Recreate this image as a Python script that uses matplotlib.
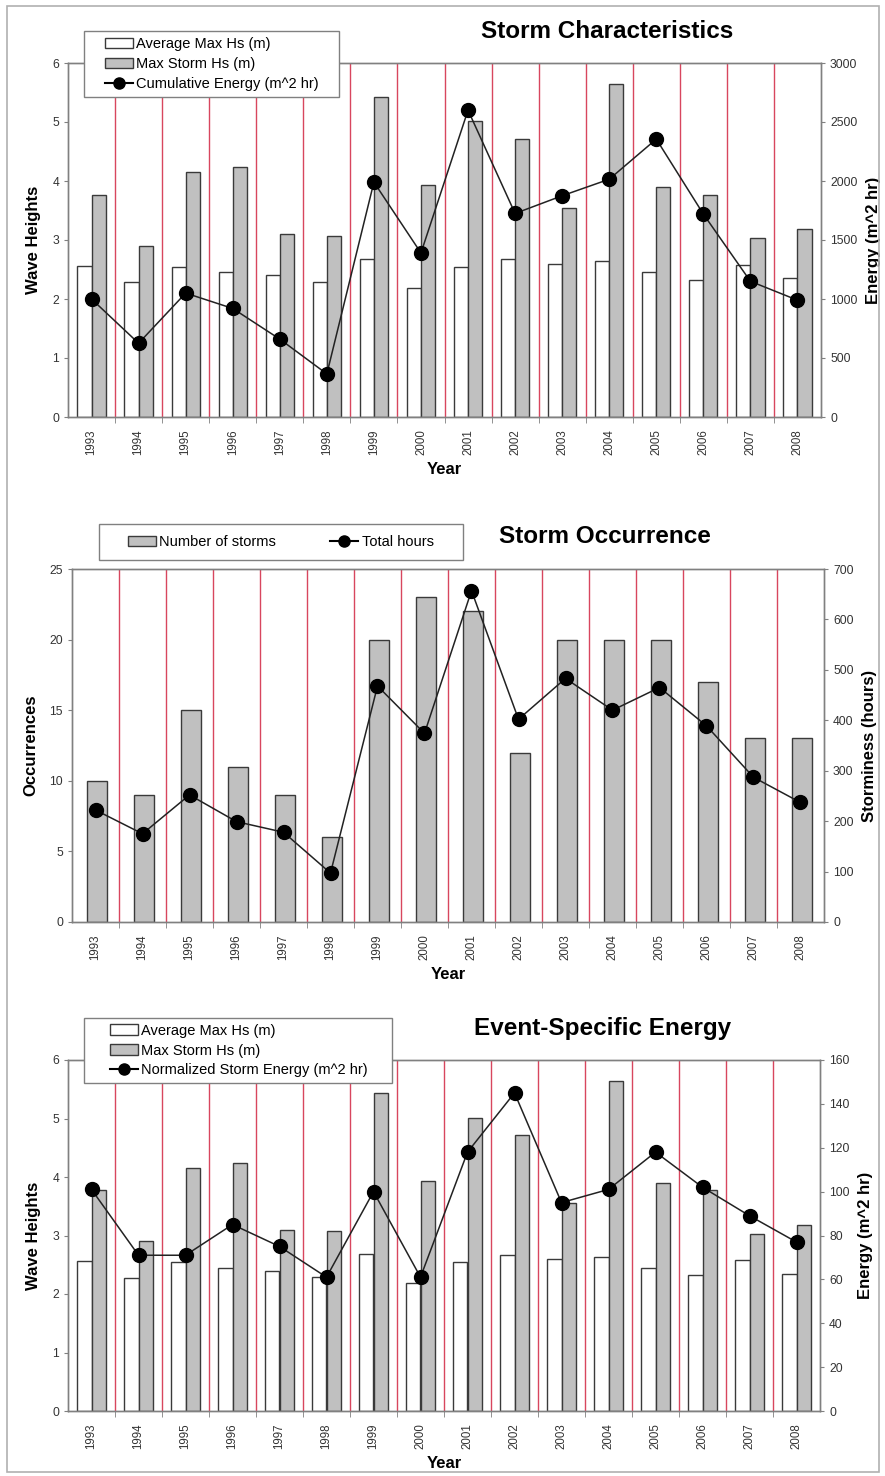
import numpy as np
import matplotlib.pyplot as plt
from matplotlib.patches import Rectangle
from matplotlib.lines import Line2D

plt.rcParams['font.family'] = ['Liberation Sans', 'DejaVu Sans']

years = [str(y) for y in range(1993, 2009)]

# wave heights (m)
avg_max_hs = [2.56, 2.28, 2.54, 2.45, 2.40, 2.29, 2.68, 2.18,
              2.55, 2.67, 2.59, 2.64, 2.45, 2.33, 2.58, 2.35]
max_storm_hs = [3.77, 2.90, 4.16, 4.24, 3.10, 3.07, 5.43, 3.93,
                5.01, 4.71, 3.55, 5.64, 3.89, 3.77, 3.03, 3.18]

# energy (m^2 hr)
cum_energy = [1000, 625, 1050, 920, 660, 365, 1990, 1390,
              2600, 1725, 1875, 2015, 2355, 1720, 1150, 990]
norm_energy = [101, 71, 71, 85, 75, 61, 100, 61,
               118, 145, 95, 101, 118, 102, 89, 77]

# storm occurrence
n_storms = [10, 9, 15, 11, 9, 6, 20, 23, 22, 12, 20, 20, 20, 17, 13, 13]
total_hours = [222, 175, 252, 199, 178, 97, 468, 374,
               657, 402, 483, 420, 465, 389, 287, 237]

GRAY = '#c0c0c0'
EDGE = '#3a3a3a'
RED = '#d8465e'
SPINE = '#808080'
W, H = 885, 1476

fig = plt.figure(figsize=(8.85, 14.76), dpi=100)
fig.patches.append(Rectangle((0.008, 0.003), 0.985, 0.993, transform=fig.transFigure,
                             fill=False, edgecolor='#b0b0b0', linewidth=1.2))

x = np.arange(len(years))


def px_box(x0, y0, x1, y1):
    # box in pixel coords (from top-left) -> figure rectangle
    fig.patches.append(Rectangle((x0 / W, 1 - y1 / H), (x1 - x0) / W, (y1 - y0) / H,
                                 transform=fig.transFigure, facecolor='white',
                                 edgecolor='#808080', linewidth=1.0, zorder=5))


def legend(handles, labels, box, indent, **kw):
    x0, y0, x1, y1 = box
    px_box(x0, y0, x1, y1)
    leg = fig.legend(handles, labels, loc='center left',
                     bbox_to_anchor=((x0 + indent) / W, 1 - (y0 + y1) / 2 / H),
                     bbox_transform=fig.transFigure, fontsize=10.5, frameon=False,
                     borderaxespad=0, borderpad=0, handlelength=1.9, handletextpad=0.25,
                     **kw)
    leg.set_zorder(6)


def setup(ax, ax2, ymax, ystep, y2max, y2step, ylabel, y2label):
    ax.set_xlim(-0.5, len(years) - 0.5)
    ax.set_ylim(0, ymax)
    ax2.set_ylim(0, y2max)
    ax.set_yticks(np.arange(0, ymax + ystep / 2, ystep))
    ax2.set_yticks(np.arange(0, y2max + y2step / 2, y2step))
    for b in x[:-1] + 0.5:
        ax.axvline(b, color=RED, linewidth=1.0, zorder=0.5)
    ax.set_xticks(x)
    ax.set_xticklabels(years, rotation=90, fontsize=8.3, color='#333333')
    ax.set_xticks(x[:-1] + 0.5, minor=True)
    ax.tick_params(axis='x', which='major', length=0, pad=9)
    ax.tick_params(axis='x', which='minor', length=4, color=SPINE, direction='out')
    ax.tick_params(axis='y', labelsize=8.7, length=3, color=SPINE, labelcolor='#333333')
    ax2.tick_params(axis='y', labelsize=8.7, length=3, color=SPINE, labelcolor='#333333')
    for a in (ax, ax2):
        for s in a.spines.values():
            s.set_color(SPINE)
            s.set_linewidth(1.0)
    ax.set_xlabel('Year', fontsize=12, fontweight='bold', labelpad=5)
    ax.set_ylabel(ylabel, fontsize=12, fontweight='bold', labelpad=8)
    ax2.set_ylabel(y2label, fontsize=12, fontweight='bold', labelpad=6)


def hs_chart(rect, energy, y2max, y2step, line_label, leg_box, indent):
    ax = fig.add_axes(rect)
    ax2 = ax.twinx()
    ax.bar(x - 0.15, avg_max_hs, width=0.3, color='white', edgecolor=EDGE, linewidth=1, zorder=2)
    ax.bar(x + 0.15, max_storm_hs, width=0.3, color=GRAY, edgecolor=EDGE, linewidth=1, zorder=2)
    ax2.plot(x, energy, color='#222222', linewidth=1.1, marker='o', markersize=10,
             markerfacecolor='black', markeredgecolor='black', zorder=3)
    setup(ax, ax2, 6, 1, y2max, y2step, 'Wave Heights', 'Energy (m^2 hr)')
    handles = [Rectangle((0, 0), 1, 1, facecolor='white', edgecolor=EDGE),
               Rectangle((0, 0), 1, 1, facecolor=GRAY, edgecolor=EDGE),
               Line2D([], [], color='black', marker='o', markersize=8)]
    labels = ['Average Max Hs (m)', 'Max Storm Hs (m)', line_label]
    legend(handles, labels, leg_box, indent, labelspacing=0.4)
    return ax


# Storm Characteristics
hs_chart([68 / W, 1 - 417 / H, 753 / W, 354 / H], cum_energy, 3000, 500,
         'Cumulative Energy (m^2 hr)', (84, 31, 339, 97), 21)
fig.text(607 / W, 1 - 31 / H, 'Storm Characteristics', ha='center', va='center',
         fontsize=17.5, fontweight='bold')

# Storm Occurrence
ax = fig.add_axes([72 / W, 1 - 922 / H, 752 / W, 353 / H])
ax2 = ax.twinx()
ax.bar(x + 0.03, n_storms, width=0.43, color=GRAY, edgecolor=EDGE, linewidth=1, zorder=2)
ax2.plot(x, total_hours, color='#222222', linewidth=1.1, marker='o', markersize=10,
         markerfacecolor='black', markeredgecolor='black', zorder=3)
setup(ax, ax2, 25, 5, 700, 100, 'Occurrences', 'Storminess (hours)')
handles = [Rectangle((0, 0), 1, 1, facecolor=GRAY, edgecolor=EDGE),
           Line2D([], [], color='black', marker='o', markersize=8)]
legend(handles, ['Number of storms', 'Total hours'], (99, 524, 463, 560), 29,
       ncol=2, columnspacing=3.7)
fig.text(605 / W, 1 - 537 / H, 'Storm Occurrence', ha='center', va='center',
         fontsize=17.5, fontweight='bold')

# Event-Specific Energy
hs_chart([68 / W, 1 - 1411 / H, 752 / W, 351 / H], norm_energy, 160, 20,
         'Normalized Storm Energy (m^2 hr)', (84, 1018, 392, 1083), 26)
fig.text(603 / W, 1 - 1029 / H, 'Event-Specific Energy', ha='center', va='center',
         fontsize=17.5, fontweight='bold')

fig.savefig('out.png', dpi=100)
